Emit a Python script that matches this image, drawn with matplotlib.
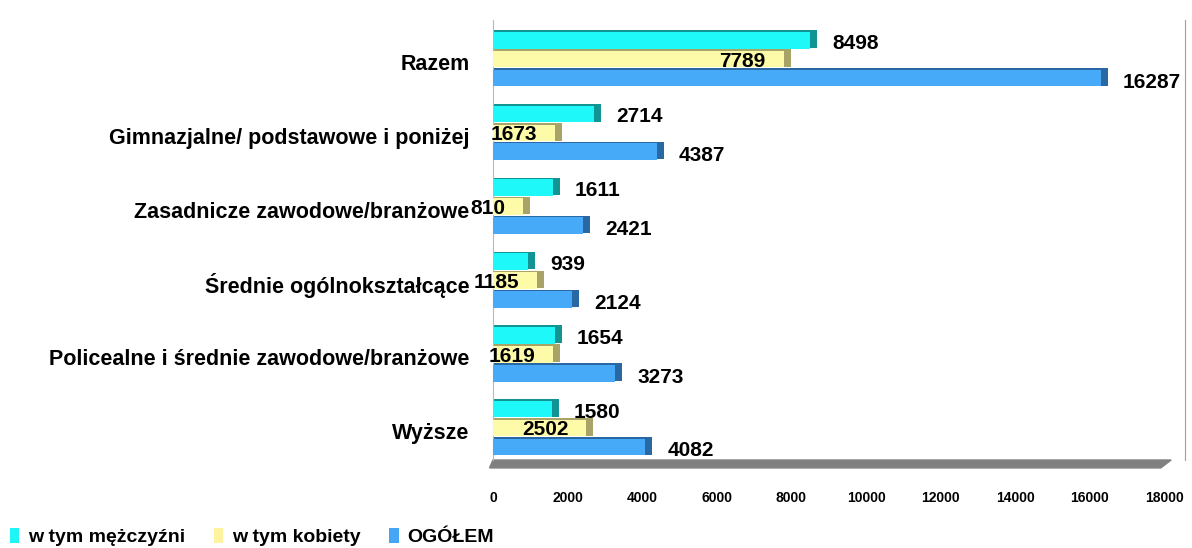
import numpy as np
import matplotlib
matplotlib.use("Agg")
import matplotlib.pyplot as plt
from matplotlib.patches import Patch, Polygon

plt.rcParams["font.family"] = ["Liberation Sans", "DejaVu Sans"]
plt.rcParams["font.weight"] = "bold"

# data (bottom -> top)
categories = [
    "Wyższe",
    "Policealne i średnie zawodowe/branżowe",
    "Średnie ogólnokształcące",
    "Zasadnicze zawodowe/branżowe",
    "Gimnazjalne/ podstawowe i poniżej",
    "Razem",
]
men = [1580, 1654, 939, 1611, 2714, 8498]
women = [2502, 1619, 1185, 810, 1673, 7789]
total = [4082, 3273, 2124, 2421, 4387, 16287]
series_names = ["w tym mężczyźni", "w tym kobiety", "OGÓŁEM"]
xticks = [0, 2000, 4000, 6000, 8000, 10000, 12000, 14000, 16000, 18000]

front_colors = ["#1ff8f8", "#fdfaa8", "#46aaf8"]
side_colors = ["#139494", "#a8a468", "#2a68a4"]
legend_colors = ["#1ff5f5", "#fff3a0", "#46a6f5"]

fig = plt.figure(figsize=(11.92, 5.48), dpi=100)
W, H = 1192, 548
ax = fig.add_axes([493 / W, 1 - 460 / H, (1185 - 493) / W, 440 / H])

y = np.arange(len(categories))
slot = 0.257
offsets = [slot, 0.0, -slot]
depth = 190  # data units for the 3D cap

for vals, off, fc, sc in zip([men, women, total], offsets, front_colors, side_colors):
    vals = np.asarray(vals)
    ax.barh(y + off + 0.015, vals + depth, height=slot - 0.02, color=sc, zorder=2)
    ax.barh(y + off, vals, height=slot - 0.03, color=fc, zorder=3)

lab_kw = dict(fontsize=15, fontweight="bold", textcoords="offset pixels", va="center", zorder=5)
for i in y:
    ax.annotate(f"{men[i]}", (men[i], i + offsets[0]), xytext=(22, -3), ha="left", **lab_kw)
    ax.annotate(f"{women[i]}", (women[i], i + offsets[1]), xytext=(-18, -2), ha="right", **lab_kw)
    ax.annotate(f"{total[i]}", (total[i], i + offsets[2]), xytext=(22, -4), ha="left", **lab_kw)

ax.set_xlim(0, 18550)
ax.set_ylim(-0.434, 5.53)
ax.set_xticks(xticks)
ax.set_xticklabels([str(t) for t in xticks], fontsize=10, fontweight="bold")
ax.set_yticks(y - 0.04)
ax.set_yticklabels(categories, fontsize=15.5, fontweight="bold")
ax.tick_params(axis="x", length=0, pad=22)
ax.tick_params(axis="y", length=0, pad=17)

for s in ["top", "bottom"]:
    ax.spines[s].set_visible(False)
ax.spines["left"].set_color("#b8b8b8")
ax.spines["right"].set_color("#a0a0a0")

# floor of the 3D box
floor = Polygon([(0, 0), (0.98, 0), (0.965, -0.018), (-0.005, -0.018)],
                closed=True, transform=ax.transAxes, color="#808080", clip_on=False, zorder=1)
ax.add_patch(floor)

handles = [Patch(facecolor=c, edgecolor="none") for c in legend_colors]
fig.legend(handles, series_names, loc="center left", bbox_to_anchor=(0.0, 1 - 537 / H),
           ncol=3, frameon=False, handlelength=0.5, handleheight=0.85, handletextpad=0.45,
           columnspacing=1.45, prop={"weight": "bold", "size": 14}, borderaxespad=0.1)

fig.savefig("out.png", dpi=100)
